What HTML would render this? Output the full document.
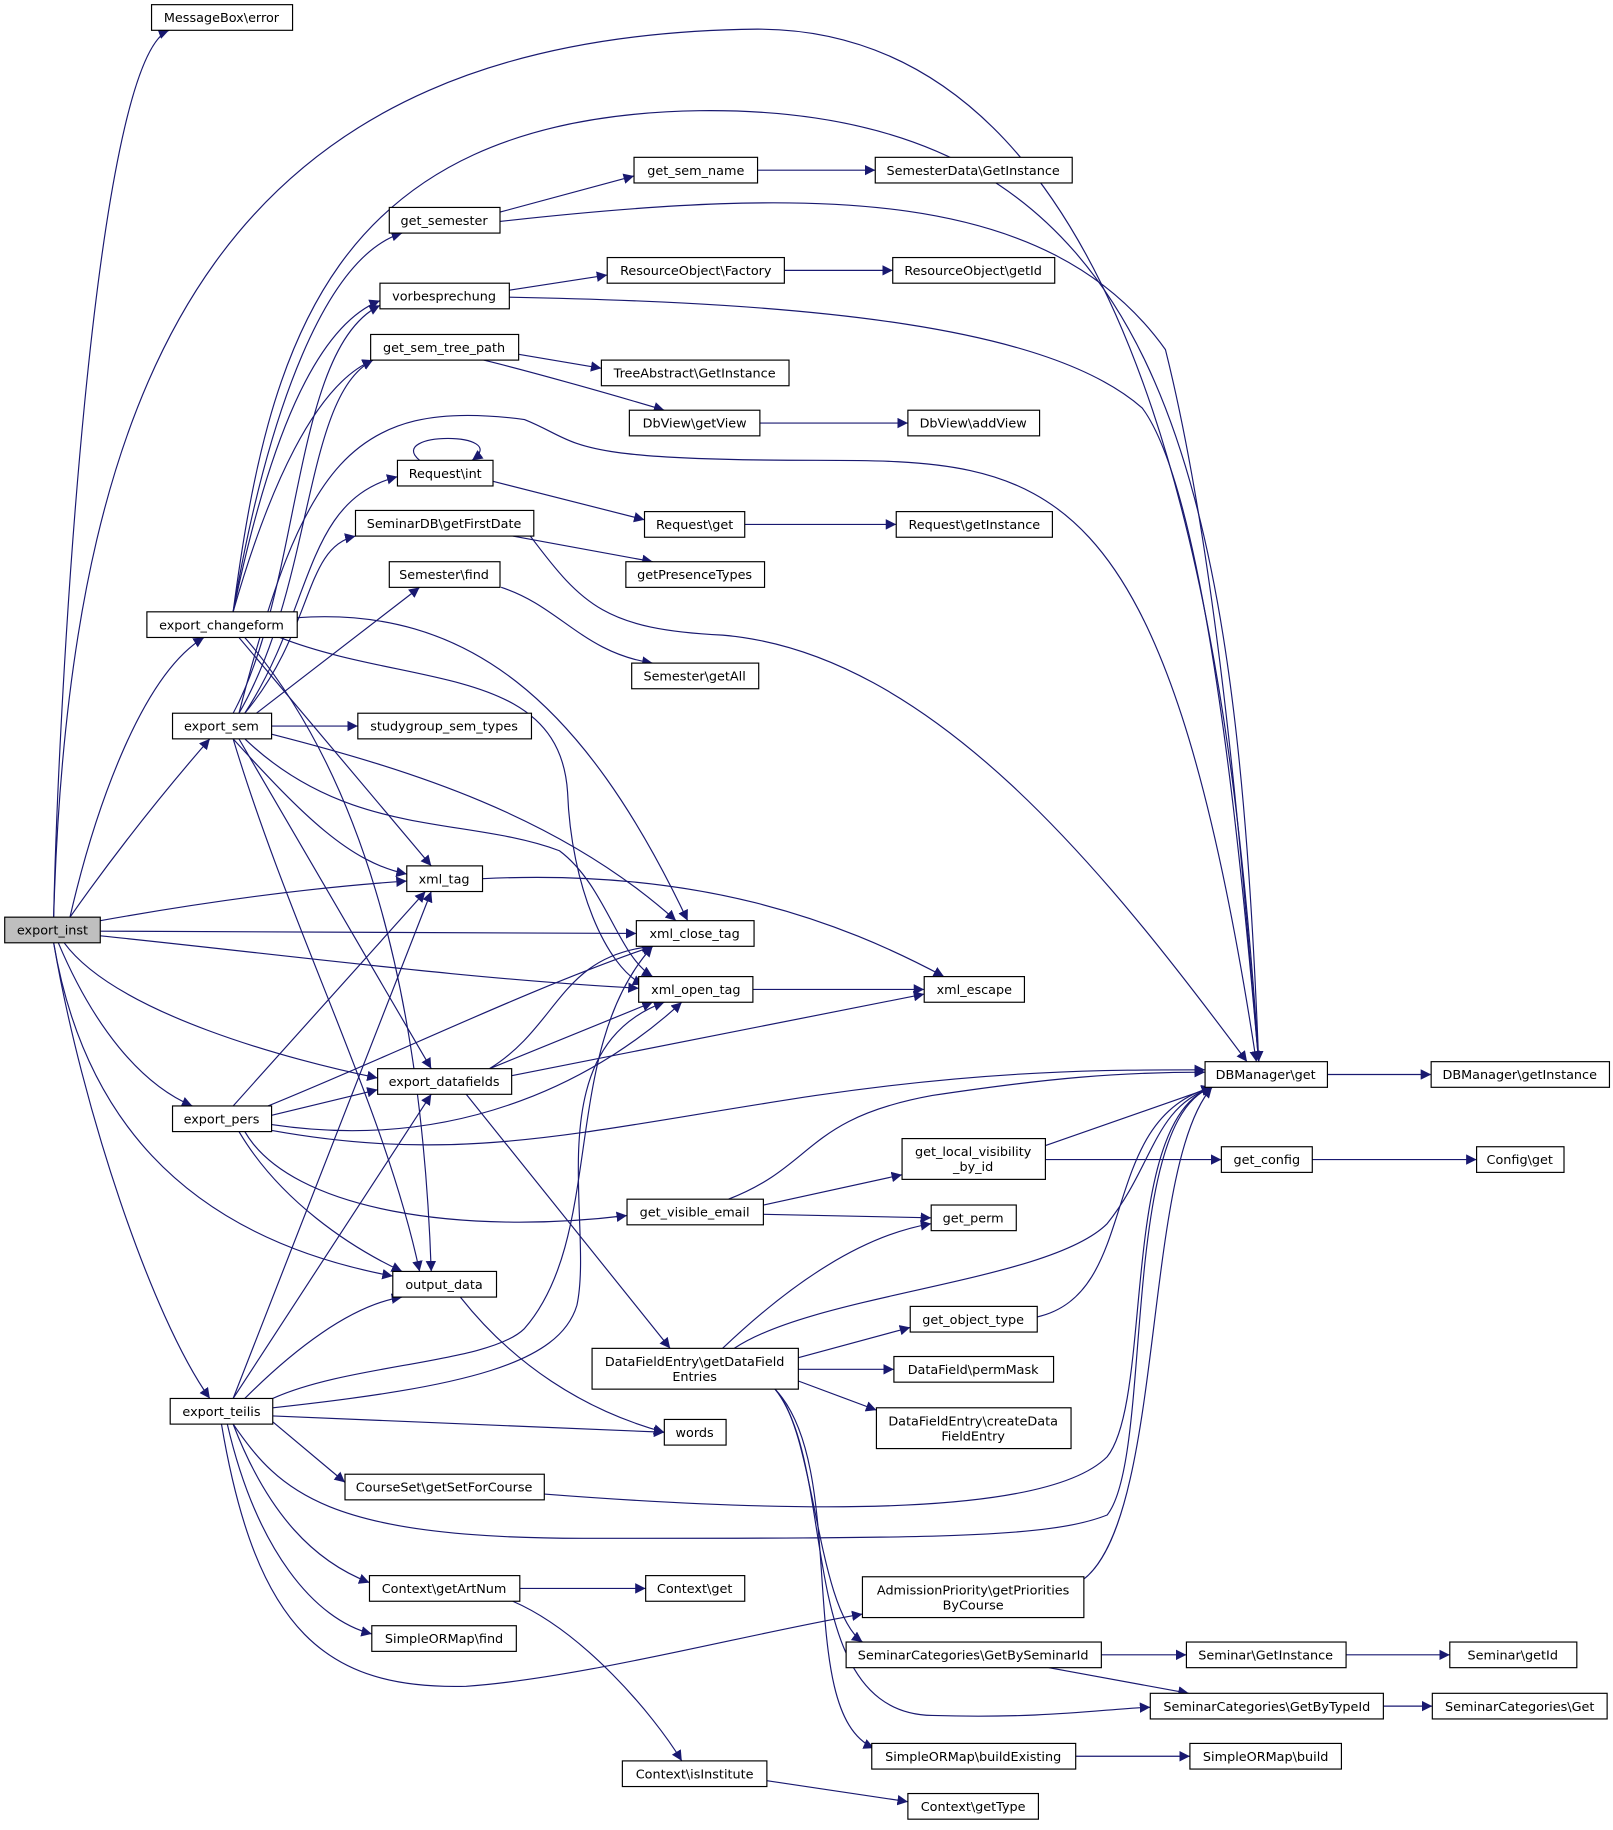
<!DOCTYPE html>
<html><head><meta charset="utf-8"><style>
html,body{margin:0;padding:0;background:#fff;}
svg text{font-family:"DejaVu Sans","Liberation Sans",sans-serif;font-size:11px;fill:#000;}
</style></head><body>
<svg width="1613" height="1825" viewBox="0 0 1384 1566" xmlns="http://www.w3.org/2000/svg">
<defs><marker id="a" viewBox="0 0 10 10" refX="10" refY="5" markerWidth="9" markerHeight="9" markerUnits="userSpaceOnUse" orient="auto"><path d="M0,0 L10,5 L0,10 z" fill="#191970"/></marker></defs>
<g fill="none" stroke="#191970" stroke-width="1" marker-end="url(#a)">
<path d="M46,787 C50,600 80,50 145,26"/>
<path d="M46,787 C60,300 200,30 650,25 C1000,25 1060,600 1080,911"/>
<path d="M60,787 C80,700 120,580 175,547"/>
<path d="M60,787 C100,730 140,680 180,634"/>
<path d="M86,790 C170,775 260,762 349,756"/>
<path d="M86,799 L546,801"/>
<path d="M86,803 C250,820 400,840 548,848"/>
<path d="M55,809 C100,870 250,910 324,925"/>
<path d="M50,809 C80,880 120,930 165,949"/>
<path d="M46,809 C70,950 150,1060 337,1095"/>
<path d="M46,809 C70,950 130,1130 180,1200"/>
<path d="M200,525 C230,300 280,100 600,95 C1000,90 1060,400 1080,911"/>
<path d="M200,525 C230,350 280,220 345,200"/>
<path d="M200,525 C230,380 270,280 326,258"/>
<path d="M200,525 C230,420 270,330 320,309"/>
<path d="M255,530 C400,520 500,600 590,790"/>
<path d="M240,547 C350,590 480,570 487,680 C490,760 520,830 552,845"/>
<path d="M205,547 L370,743"/>
<path d="M210,547 C290,640 360,800 370,1091"/>
<path d="M200,612 C260,500 250,300 326,262"/>
<path d="M205,612 C270,500 260,340 320,309"/>
<path d="M205,612 C260,400 300,340 450,360 C500,380 480,395 700,395 C900,395 1000,400 1078,911"/>
<path d="M210,612 C270,520 260,430 341,409"/>
<path d="M210,612 C270,540 260,470 305,460"/>
<path d="M220,612 L360,504"/>
<path d="M233,623 L307,623"/>
<path d="M200,634 C260,700 300,740 349,750"/>
<path d="M233,630 C350,660 480,700 580,790"/>
<path d="M210,634 C300,720 400,700 480,730 C520,760 530,820 560,838"/>
<path d="M205,634 L370,917"/>
<path d="M200,634 C250,800 330,950 360,1091"/>
<path d="M429,182 L544,151"/>
<path d="M429,190 C700,160 900,160 1000,300 C1050,500 1070,800 1080,911"/>
<path d="M650,146 L751,146"/>
<path d="M437,249 L521,236"/>
<path d="M437,255 C700,260 900,280 980,350 C1040,430 1070,800 1080,911"/>
<path d="M673,232 L766,232"/>
<path d="M445,304 L516,316"/>
<path d="M415,309 C460,320 530,340 570,352"/>
<path d="M652,363 L779,363"/>
<path d="M360,395 C330,370 440,370 405,395"/>
<path d="M423,413 L553,446"/>
<path d="M639,450 L769,450"/>
<path d="M440,460 L560,482"/>
<path d="M455,460 C500,520 520,540 620,545 C800,560 950,750 1070,911"/>
<path d="M430,504 C480,520 500,560 560,569"/>
<path d="M414,754 C600,745 720,790 810,838"/>
<path d="M646,849 L793,849"/>
<path d="M420,917 C480,880 480,820 560,812"/>
<path d="M420,917 L560,860"/>
<path d="M439,923 L793,853"/>
<path d="M400,939 L575,1157"/>
<path d="M200,949 L365,765"/>
<path d="M230,949 C350,900 450,850 560,812"/>
<path d="M233,957 L324,935"/>
<path d="M233,965 C400,990 520,920 585,860"/>
<path d="M233,970 C400,1000 500,970 700,940 C850,918 950,918 1034,918"/>
<path d="M205,971 C240,1030 300,1070 345,1091"/>
<path d="M210,971 C250,1040 400,1060 538,1043"/>
<path d="M625,1029 C700,1000 690,960 800,940 C900,925 960,920 1034,920"/>
<path d="M655,1034 L774,1008"/>
<path d="M655,1042 L799,1045"/>
<path d="M897,983 L1040,933"/>
<path d="M897,995 L1048,995"/>
<path d="M1126,995 L1267,995"/>
<path d="M1139,922 L1228,922"/>
<path d="M395,1113 C440,1170 500,1210 570,1229"/>
<path d="M200,1200 L370,765"/>
<path d="M200,1200 L370,939"/>
<path d="M210,1200 C250,1160 300,1120 345,1113"/>
<path d="M234,1200 C300,1170 420,1170 450,1140 C520,1060 480,900 560,812"/>
<path d="M234,1208 C400,1190 480,1170 495,1120 C510,1050 460,900 570,860"/>
<path d="M234,1215 L570,1229"/>
<path d="M234,1220 L296,1272"/>
<path d="M200,1222 C240,1280 280,1320 500,1320 C800,1320 900,1320 950,1300 C990,1250 960,960 1040,933"/>
<path d="M200,1222 C230,1300 270,1340 317,1358"/>
<path d="M195,1222 C220,1330 270,1390 319,1402"/>
<path d="M190,1222 C220,1400 280,1450 400,1447 C500,1440 650,1400 740,1385"/>
<path d="M467,1282 C700,1300 900,1300 950,1250 C990,1200 960,960 1040,933"/>
<path d="M446,1363 L554,1363"/>
<path d="M440,1374 C500,1400 560,1470 585,1511"/>
<path d="M658,1528 L779,1546"/>
<path d="M930,1355 C1000,1300 980,1000 1040,933"/>
<path d="M620,1157 C680,1100 740,1060 799,1050"/>
<path d="M630,1157 C700,1110 900,1100 950,1050 C990,1000 990,950 1040,933"/>
<path d="M685,1165 L781,1139"/>
<path d="M685,1175 L767,1175"/>
<path d="M685,1185 L752,1210"/>
<path d="M665,1192 C700,1230 700,1380 740,1409"/>
<path d="M665,1192 C720,1260 680,1470 800,1472 C900,1475 950,1466 987,1465"/>
<path d="M665,1192 C730,1260 680,1470 750,1500"/>
<path d="M890,1130 C980,1110 940,960 1040,933"/>
<path d="M945,1420 L1018,1420"/>
<path d="M900,1431 L1020,1453"/>
<path d="M1155,1420 L1244,1420"/>
<path d="M1187,1464 L1229,1464"/>
<path d="M923,1507 L1021,1507"/>
</g>
<g stroke="#000" stroke-width="1" fill="#fff">
<rect x="130" y="4" width="121" height="22"/>
<rect x="4" y="787" width="82" height="22" fill="#bfbfbf"/>
<rect x="126" y="525" width="129" height="22"/>
<rect x="148" y="612" width="85" height="22"/>
<rect x="148" y="949" width="85" height="22"/>
<rect x="146" y="1200" width="88" height="22"/>
<rect x="334" y="178" width="95" height="22"/>
<rect x="326" y="243" width="111" height="22"/>
<rect x="318" y="287" width="127" height="22"/>
<rect x="341" y="395" width="82" height="22"/>
<rect x="305" y="438" width="153" height="22"/>
<rect x="334" y="482" width="95" height="22"/>
<rect x="307" y="612" width="149" height="22"/>
<rect x="349" y="743" width="65" height="22"/>
<rect x="324" y="917" width="115" height="22"/>
<rect x="337" y="1091" width="89" height="22"/>
<rect x="296" y="1265" width="171" height="22"/>
<rect x="317" y="1352" width="129" height="22"/>
<rect x="319" y="1395" width="124" height="22"/>
<rect x="544" y="135" width="106" height="22"/>
<rect x="521" y="221" width="152" height="22"/>
<rect x="516" y="309" width="161" height="22"/>
<rect x="540" y="352" width="112" height="22"/>
<rect x="553" y="439" width="86" height="22"/>
<rect x="537" y="482" width="119" height="22"/>
<rect x="542" y="569" width="109" height="22"/>
<rect x="546" y="790" width="101" height="22"/>
<rect x="548" y="838" width="98" height="22"/>
<rect x="538" y="1029" width="117" height="22"/>
<rect x="508" y="1157" width="177" height="35"/>
<rect x="570" y="1218" width="53" height="22"/>
<rect x="554" y="1352" width="85" height="22"/>
<rect x="534" y="1511" width="124" height="22"/>
<rect x="751" y="135" width="169" height="22"/>
<rect x="766" y="221" width="139" height="22"/>
<rect x="779" y="352" width="113" height="22"/>
<rect x="769" y="439" width="134" height="22"/>
<rect x="793" y="838" width="86" height="22"/>
<rect x="774" y="977" width="123" height="35"/>
<rect x="799" y="1034" width="73" height="22"/>
<rect x="781" y="1121" width="109" height="22"/>
<rect x="767" y="1164" width="137" height="22"/>
<rect x="752" y="1208" width="167" height="35"/>
<rect x="740" y="1353" width="190" height="35"/>
<rect x="726" y="1409" width="219" height="22"/>
<rect x="987" y="1453" width="200" height="22"/>
<rect x="748" y="1496" width="175" height="22"/>
<rect x="779" y="1539" width="112" height="22"/>
<rect x="1034" y="911" width="105" height="22"/>
<rect x="1228" y="911" width="153" height="22"/>
<rect x="1048" y="984" width="78" height="22"/>
<rect x="1267" y="984" width="75" height="22"/>
<rect x="1018" y="1409" width="137" height="22"/>
<rect x="1244" y="1409" width="109" height="22"/>
<rect x="1021" y="1496" width="130" height="22"/>
<rect x="1229" y="1453" width="150" height="22"/>
</g>
<g text-anchor="middle">
<text x="190" y="19">MessageBox\error</text>
<text x="45" y="802">export_inst</text>
<text x="190" y="540">export_changeform</text>
<text x="190" y="627">export_sem</text>
<text x="190" y="964">export_pers</text>
<text x="190" y="1215">export_teilis</text>
<text x="381" y="193">get_semester</text>
<text x="381" y="258">vorbesprechung</text>
<text x="381" y="302">get_sem_tree_path</text>
<text x="382" y="410">Request\int</text>
<text x="381" y="453">SeminarDB\getFirstDate</text>
<text x="381" y="497">Semester\find</text>
<text x="381" y="627">studygroup_sem_types</text>
<text x="381" y="758">xml_tag</text>
<text x="381" y="932">export_datafields</text>
<text x="381" y="1106">output_data</text>
<text x="381" y="1280">CourseSet\getSetForCourse</text>
<text x="381" y="1367">Context\getArtNum</text>
<text x="381" y="1410">SimpleORMap\find</text>
<text x="597" y="150">get_sem_name</text>
<text x="597" y="236">ResourceObject\Factory</text>
<text x="596" y="324">TreeAbstract\GetInstance</text>
<text x="596" y="367">DbView\getView</text>
<text x="596" y="454">Request\get</text>
<text x="596" y="497">getPresenceTypes</text>
<text x="596" y="584">Semester\getAll</text>
<text x="596" y="805">xml_close_tag</text>
<text x="597" y="853">xml_open_tag</text>
<text x="596" y="1044">get_visible_email</text>
<text x="596" y="1172">DataFieldEntry\getDataField</text>
<text x="596" y="1185">Entries</text>
<text x="596" y="1233">words</text>
<text x="596" y="1367">Context\get</text>
<text x="596" y="1526">Context\isInstitute</text>
<text x="835" y="150">SemesterData\GetInstance</text>
<text x="835" y="236">ResourceObject\getId</text>
<text x="835" y="367">DbView\addView</text>
<text x="836" y="454">Request\getInstance</text>
<text x="836" y="853">xml_escape</text>
<text x="835" y="992">get_local_visibility</text>
<text x="835" y="1005">_by_id</text>
<text x="835" y="1049">get_perm</text>
<text x="835" y="1136">get_object_type</text>
<text x="835" y="1179">DataField\permMask</text>
<text x="835" y="1223">DataFieldEntry\createData</text>
<text x="835" y="1236">FieldEntry</text>
<text x="835" y="1368">AdmissionPriority\getPriorities</text>
<text x="835" y="1381">ByCourse</text>
<text x="835" y="1424">SeminarCategories\GetBySeminarId</text>
<text x="1087" y="1468">SeminarCategories\GetByTypeId</text>
<text x="835" y="1511">SimpleORMap\buildExisting</text>
<text x="835" y="1554">Context\getType</text>
<text x="1086" y="926">DBManager\get</text>
<text x="1304" y="926">DBManager\getInstance</text>
<text x="1087" y="999">get_config</text>
<text x="1304" y="999">Config\get</text>
<text x="1086" y="1424">Seminar\GetInstance</text>
<text x="1298" y="1424">Seminar\getId</text>
<text x="1086" y="1511">SimpleORMap\build</text>
<text x="1304" y="1468">SeminarCategories\Get</text>
</g>
</svg>
</body></html>
